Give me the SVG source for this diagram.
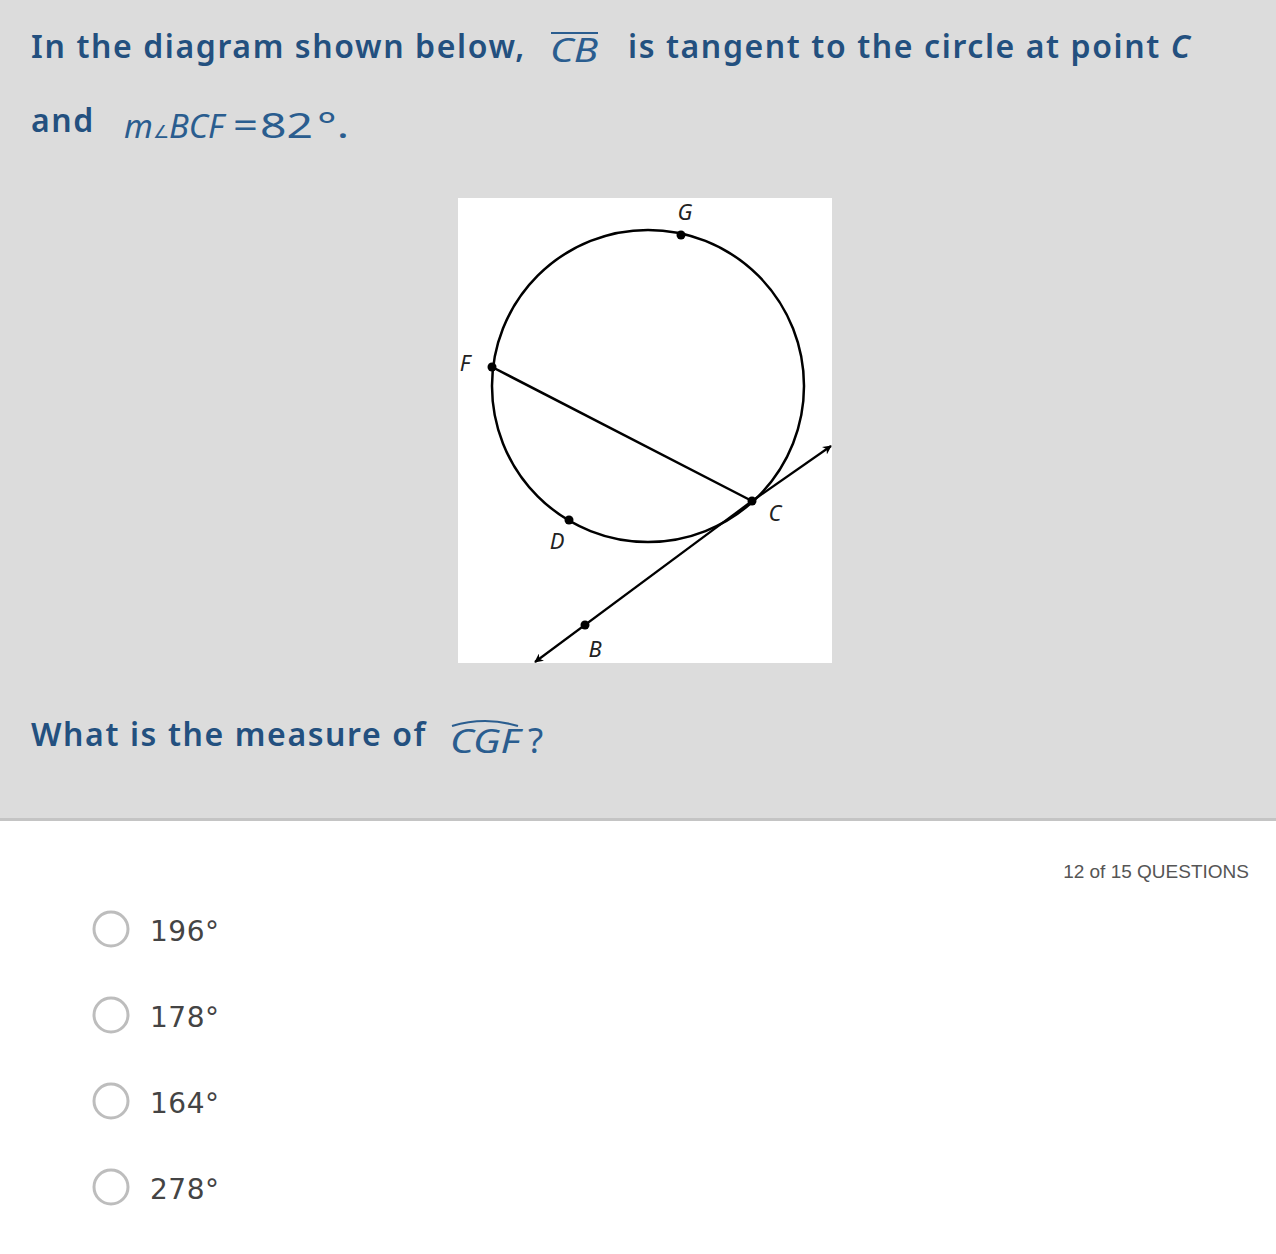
<svg xmlns="http://www.w3.org/2000/svg" width="1276" height="1254" viewBox="0 0 1276 1254">
<style>
.q{font-family:"Noto Sans","Open Sans",sans-serif;font-weight:600;font-size:32px;letter-spacing:1.6px;fill:#23507f}
.m{font-family:"Noto Sans","Open Sans",sans-serif;font-style:italic;font-size:33px;fill:#2a5d8f}
.u{font-family:"Noto Sans","Open Sans",sans-serif;font-size:35px;fill:#2a5d8f}
.lbl{font-family:"Noto Sans","DejaVu Sans",sans-serif;font-style:italic;font-size:22px;fill:#222}
.opt{font-family:"DejaVu Sans",sans-serif;font-size:28px;fill:#444;letter-spacing:0.5px}
.radio{fill:#fff;stroke:#bdbdbd;stroke-width:3}
.pt{fill:#000}
</style>
<defs>
<marker id="ah" viewBox="0 0 10 10" refX="9" refY="5" markerWidth="9" markerHeight="9" orient="auto" markerUnits="userSpaceOnUse">
<path d="M0,0 L10,5 L0,10 L3,5 Z" fill="#000"/>
</marker>
</defs>
<rect x="0" y="0" width="1276" height="818" fill="#dcdcdc"/>
<rect x="0" y="818" width="1276" height="3" fill="#c4c4c4"/>
<rect x="0" y="821" width="1276" height="433" fill="#fff"/>

<g id="question">
<text class="q" x="31" y="58">In the diagram shown below,</text>
<text class="m" x="550" y="62" textLength="48" lengthAdjust="spacingAndGlyphs">CB</text>
<line x1="551" y1="33" x2="598" y2="33" stroke="#2a5d8f" stroke-width="2"/>
<text class="q" x="628" y="58">is tangent to the circle at point <tspan font-style="italic">C</tspan></text>
<text class="q" x="31" y="132">and</text>
<text class="m" x="124" y="138" font-size="31">m<tspan font-size="18" font-style="normal">∠</tspan>BCF</text>
<text class="u" x="233" y="138" textLength="25" lengthAdjust="spacingAndGlyphs">=</text>
<text class="u" x="260" y="138" textLength="53" lengthAdjust="spacingAndGlyphs">82</text>
<text class="u" x="317" y="138" textLength="32" lengthAdjust="spacingAndGlyphs">°.</text>
</g>

<g id="figure">
<rect x="458" y="198" width="374" height="465" fill="#fff"/>
<circle cx="648" cy="386" r="156" fill="none" stroke="#000" stroke-width="2.5"/>
<g id="connectors">
<line x1="492" y1="367" x2="752" y2="501" stroke="#000" stroke-width="2.5"/>
<line x1="752" y1="501" x2="831" y2="446" stroke="#000" stroke-width="2.2" marker-end="url(#ah)"/>
<line x1="752" y1="501" x2="535" y2="662" stroke="#000" stroke-width="2.2" marker-end="url(#ah)"/>
</g>
<g id="G"><circle class="pt" cx="681" cy="235" r="4.5"/><text class="lbl" x="685" y="220" text-anchor="middle">G</text></g>
<g id="F"><circle class="pt" cx="492" cy="367" r="4.5"/><text class="lbl" x="465" y="371" text-anchor="middle">F</text></g>
<g id="C"><circle class="pt" cx="752" cy="501" r="4.5"/><text class="lbl" x="775" y="521" text-anchor="middle">C</text></g>
<g id="D"><circle class="pt" cx="569" cy="520" r="4.5"/><text class="lbl" x="557" y="549" text-anchor="middle">D</text></g>
<g id="B"><circle class="pt" cx="585" cy="625" r="4.5"/><text class="lbl" x="595" y="657" text-anchor="middle">B</text></g>
</g>

<g id="question2">
<text class="q" x="31" y="746">What is the measure of</text>
<text class="m" x="450" y="753" textLength="70" lengthAdjust="spacingAndGlyphs">CGF</text>
<path d="M452,726 Q485,716 518,726" fill="none" stroke="#2a5d8f" stroke-width="2"/>
<text class="u" x="528" y="753" font-size="32">?</text>
</g>

<text x="1249" y="878" text-anchor="end" font-family="Liberation Sans, Arial, sans-serif" font-size="19" fill="#555">12 of 15 QUESTIONS</text>

<g id="opt1"><circle class="radio" cx="111" cy="929" r="17"/><text class="opt" x="150" y="941">196°</text></g>
<g id="opt2"><circle class="radio" cx="111" cy="1015" r="17"/><text class="opt" x="150" y="1027">178°</text></g>
<g id="opt3"><circle class="radio" cx="111" cy="1101" r="17"/><text class="opt" x="150" y="1113">164°</text></g>
<g id="opt4"><circle class="radio" cx="111" cy="1187" r="17"/><text class="opt" x="150" y="1199">278°</text></g>
</svg>
